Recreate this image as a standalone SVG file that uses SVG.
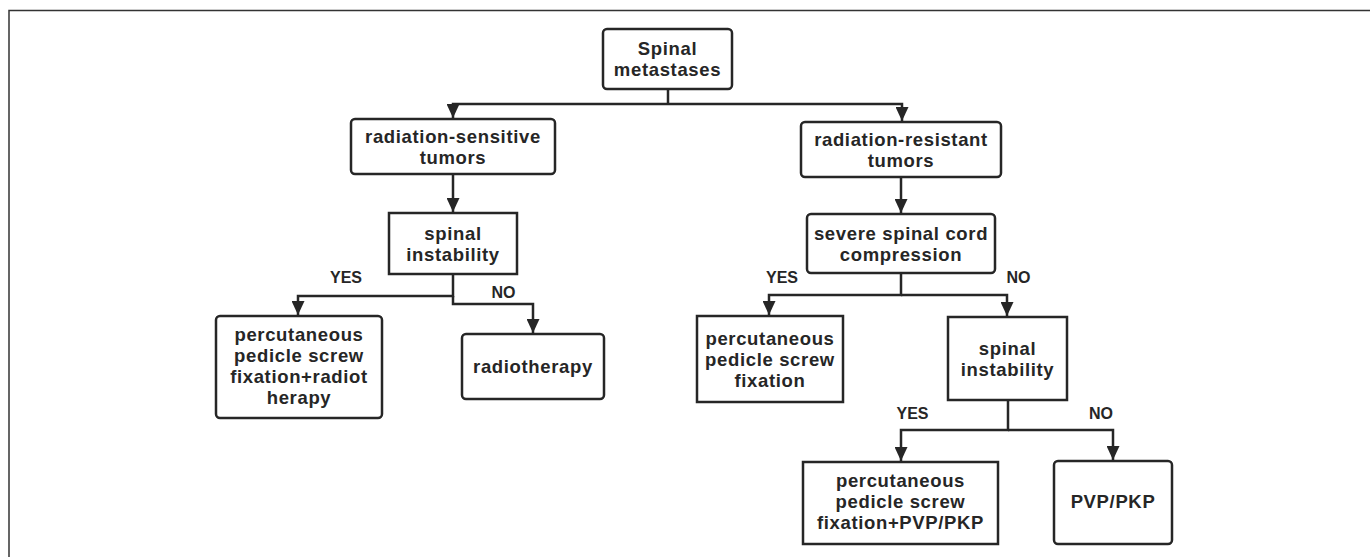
<svg xmlns="http://www.w3.org/2000/svg" width="1370" height="557" viewBox="0 0 1370 557">
<defs>
<marker id="arr" markerUnits="userSpaceOnUse" markerWidth="14" markerHeight="13" refX="14" refY="6.5" orient="auto">
<path d="M0,0 L14,6.5 L0,13 z" fill="#262626"/>
</marker>
<style>
.box{fill:#fff;stroke:#262626;stroke-width:2.5}
.t{font-family:"Liberation Sans","Noto Sans",Arial,sans-serif;font-weight:bold;font-size:18.5px;fill:#262626;text-anchor:middle;letter-spacing:0.65px}
.lbl{font-family:"Liberation Sans","Noto Sans",Arial,sans-serif;font-weight:bold;font-size:16px;fill:#262626;text-anchor:middle}
.c{fill:none;stroke:#262626;stroke-width:2.5}
.frame{fill:none;stroke:#333;stroke-width:1.5}
</style>
</defs>
<rect width="1370" height="557" fill="#fff"/>
<path class="frame" d="M9,557 V10.5 H1370"/>

<g id="connectors">
<path class="c" d="M668,89 V104"/>
<path class="c" d="M668,104 H453 V118" marker-end="url(#arr)"/>
<path class="c" d="M668,104 H902 V121" marker-end="url(#arr)"/>
<path class="c" d="M453,174 V212" marker-end="url(#arr)"/>
<path class="c" d="M901,177 V213" marker-end="url(#arr)"/>
<path class="c" d="M453,274 V296 H298 V315" marker-end="url(#arr)"/>
<path class="c" d="M453,296 V304 H533 V333" marker-end="url(#arr)"/>
<path class="c" d="M901,273 V295 H769 V315" marker-end="url(#arr)"/>
<path class="c" d="M901,295 H1007 V316" marker-end="url(#arr)"/>
<path class="c" d="M1008,400 V430 H901 V461" marker-end="url(#arr)"/>
<path class="c" d="M1008,430 H1113 V460" marker-end="url(#arr)"/>
<text class="lbl" x="346" y="283">YES</text>
<text class="lbl" x="503.5" y="298">NO</text>
<text class="lbl" x="782" y="283">YES</text>
<text class="lbl" x="1018.5" y="283">NO</text>
<text class="lbl" x="912.5" y="419">YES</text>
<text class="lbl" x="1101" y="419">NO</text>
</g>

<g id="n-spinal-metastases">
<rect class="box" x="603" y="29" width="129" height="60" rx="4"/>
<text class="t" x="667.5" y="55">Spinal</text>
<text class="t" x="667.5" y="76">metastases</text>
</g>
<g id="n-radiation-sensitive">
<rect class="box" x="351" y="119" width="204" height="55" rx="4"/>
<text class="t" x="453" y="143">radiation-sensitive</text>
<text class="t" x="453" y="164">tumors</text>
</g>
<g id="n-radiation-resistant">
<rect class="box" x="801" y="122" width="200" height="55" rx="4"/>
<text class="t" x="901" y="146">radiation-resistant</text>
<text class="t" x="901" y="167">tumors</text>
</g>
<g id="n-spinal-instability-left">
<rect class="box" x="389" y="213" width="128" height="61"/>
<text class="t" x="453" y="240">spinal</text>
<text class="t" x="453" y="261">instability</text>
</g>
<g id="n-severe-compression">
<rect class="box" x="807" y="214" width="188" height="59" rx="4"/>
<text class="t" x="901" y="240">severe spinal cord</text>
<text class="t" x="901" y="261">compression</text>
</g>
<g id="n-ppsf-radiotherapy">
<rect class="box" x="216" y="316" width="166" height="102" rx="4"/>
<text class="t" x="299" y="341">percutaneous</text>
<text class="t" x="299" y="362">pedicle screw</text>
<text class="t" x="299" y="383">fixation+radiot</text>
<text class="t" x="299" y="404">herapy</text>
</g>
<g id="n-radiotherapy">
<rect class="box" x="462" y="334" width="142" height="65" rx="4"/>
<text class="t" x="533" y="373">radiotherapy</text>
</g>
<g id="n-ppsf">
<rect class="box" x="697" y="316" width="146" height="86"/>
<text class="t" x="770" y="345">percutaneous</text>
<text class="t" x="770" y="366">pedicle screw</text>
<text class="t" x="770" y="387">fixation</text>
</g>
<g id="n-spinal-instability-right">
<rect class="box" x="948" y="317" width="119" height="83"/>
<text class="t" x="1007.5" y="355">spinal</text>
<text class="t" x="1007.5" y="376">instability</text>
</g>
<g id="n-ppsf-pvp">
<rect class="box" x="803" y="462" width="195" height="82"/>
<text class="t" x="900.5" y="487">percutaneous</text>
<text class="t" x="900.5" y="508">pedicle screw</text>
<text class="t" x="900.5" y="529">fixation+PVP/PKP</text>
</g>
<g id="n-pvp-pkp">
<rect class="box" x="1054" y="461" width="118" height="83" rx="4"/>
<text class="t" x="1113" y="508">PVP/PKP</text>
</g>
</svg>
